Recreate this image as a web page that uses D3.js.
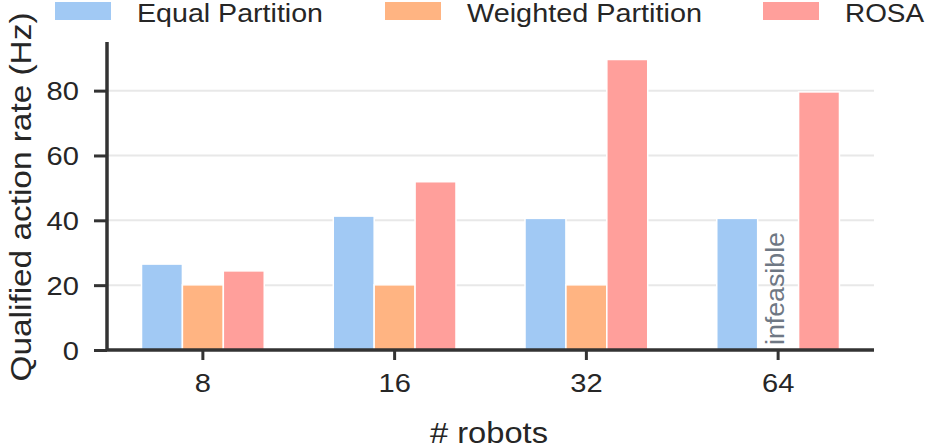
<!DOCTYPE html>
<html>
<head>
<meta charset="utf-8">
<script src="https://cdn.jsdelivr.net/npm/d3@7"></script>
<style>
  body { margin: 0; background: #fff; }
  svg { display: block; font-family: "Liberation Sans", Arial, sans-serif; }
</style>
</head>
<body>
<div id="chart"></div>
<script>
// data
const robots = ['8', '16', '32', '64'];
const seriesNames = ['Equal Partition', 'Weighted Partition', 'ROSA'];
const equalPartition = [26.5, 41.3, 40.6, 40.6];
const weightedPartition = [20.1, 20.1, 20.1, null]; // null = infeasible
const rosa = [24.4, 51.9, 89.6, 79.6];
const yTicks = [0, 20, 40, 60, 80];

const colors = ['#a1c9f4', '#ffb482', '#ff9f9b'];
const seriesValues = [equalPartition, weightedPartition, rosa];

const width = 926, height = 445;
const axisColor = '#333333';
const textColor = '#262626';
const stretch = 1.12; // reference text runs a bit wider than Liberation Sans

const svg = d3.select('#chart').append('svg')
    .attr('width', width)
    .attr('height', height);

const x0 = d3.scaleBand()
    .domain(robots)
    .range([107, 874])
    .padding(0);

const x1 = d3.scaleBand()
    .domain(seriesNames)
    .range([x0.bandwidth() * 0.18, x0.bandwidth() * 0.82])
    .padding(0);

const y = d3.scaleLinear()
    .domain([0, 95])
    .range([350, 42]);

// grid lines
svg.append('g')
    .selectAll('line')
    .data(yTicks.filter(d => d > 0))
    .enter().append('line')
    .attr('x1', 107)
    .attr('x2', 874)
    .attr('y1', d => y(d))
    .attr('y2', d => y(d))
    .attr('stroke', '#e8e8e8')
    .attr('stroke-width', 2);

// bars
const rows = [];
robots.forEach((r, i) => {
    seriesNames.forEach((s, j) => {
        rows.push({ robot: r, series: s, value: seriesValues[j][i], color: colors[j] });
    });
});

svg.append('g')
    .selectAll('rect')
    .data(rows.filter(d => d.value !== null))
    .enter().append('rect')
    .attr('x', d => x0(d.robot) + x1(d.series))
    .attr('y', d => y(d.value))
    .attr('width', x1.bandwidth())
    .attr('height', d => y(0) - y(d.value))
    .attr('fill', d => d.color)
    .attr('stroke', '#ffffff')
    .attr('stroke-width', 1.5);

// infeasible label
rows.filter(d => d.value === null).forEach(d => {
    const cx = x0(d.robot) + x1(d.series) + x1.bandwidth() / 2;
    svg.append('text')
        .attr('transform', `translate(${cx + 6},${y(0) - 5}) rotate(-90)`)
        .attr('fill', '#6f7884')
        .attr('font-size', '26px')
        .attr('textLength', 113)
        .attr('lengthAdjust', 'spacingAndGlyphs')
        .text('infeasible');
});

// axes
const yTickSize = 13, yTickPad = 15;
const xAxis = svg.append('g')
    .attr('transform', `translate(0,${y(0)})`)
    .call(d3.axisBottom(x0).tickSize(10).tickPadding(14));

const yAxis = svg.append('g')
    .attr('transform', 'translate(107,0)')
    .call(d3.axisLeft(y).tickValues(yTicks).tickSize(yTickSize).tickPadding(yTickPad));

[xAxis, yAxis].forEach(ax => {
    ax.select('.domain')
        .attr('stroke', axisColor)
        .attr('stroke-width', 3.5);
    ax.selectAll('.tick line')
        .attr('stroke', axisColor)
        .attr('stroke-width', 3);
    ax.selectAll('.tick text')
        .attr('fill', textColor)
        .attr('font-size', '26px')
        .attr('font-family', '"Liberation Sans", Arial, sans-serif')
        .attr('transform', `scale(${stretch},1)`);
});
xAxis.select('.domain').attr('d', 'M107,0H874');
yAxis.select('.domain').attr('d', `M0,${y(0)}V42`);
xAxis.selectAll('.tick text').attr('dy', '0.68em');
yAxis.selectAll('.tick text')
    .attr('x', -(yTickSize + yTickPad) / stretch)
    .attr('dy', '0.35em');

// axis titles
svg.append('text')
    .attr('x', 489)
    .attr('y', 443)
    .attr('text-anchor', 'middle')
    .attr('fill', textColor)
    .attr('font-size', '29px')
    .attr('textLength', 118)
    .attr('lengthAdjust', 'spacingAndGlyphs')
    .text('# robots');

svg.append('text')
    .attr('transform', 'translate(31,197) rotate(-90)')
    .attr('text-anchor', 'middle')
    .attr('fill', textColor)
    .attr('font-size', '29px')
    .attr('textLength', 369)
    .attr('lengthAdjust', 'spacingAndGlyphs')
    .text('Qualified action rate (Hz)');

// legend
const legendX = [55, 385, 763];
const legendTextLen = [186, 235, 79];
const legend = svg.append('g')
    .selectAll('g')
    .data(seriesNames)
    .enter().append('g')
    .attr('transform', (d, i) => `translate(${legendX[i]},2)`);

legend.append('rect')
    .attr('width', 56)
    .attr('height', 18)
    .attr('fill', (d, i) => colors[i]);

legend.append('text')
    .attr('x', 82)
    .attr('y', 20)
    .attr('fill', textColor)
    .attr('font-size', '26px')
    .attr('textLength', (d, i) => legendTextLen[i])
    .attr('lengthAdjust', 'spacingAndGlyphs')
    .text(d => d);
</script>
</body>
</html>
